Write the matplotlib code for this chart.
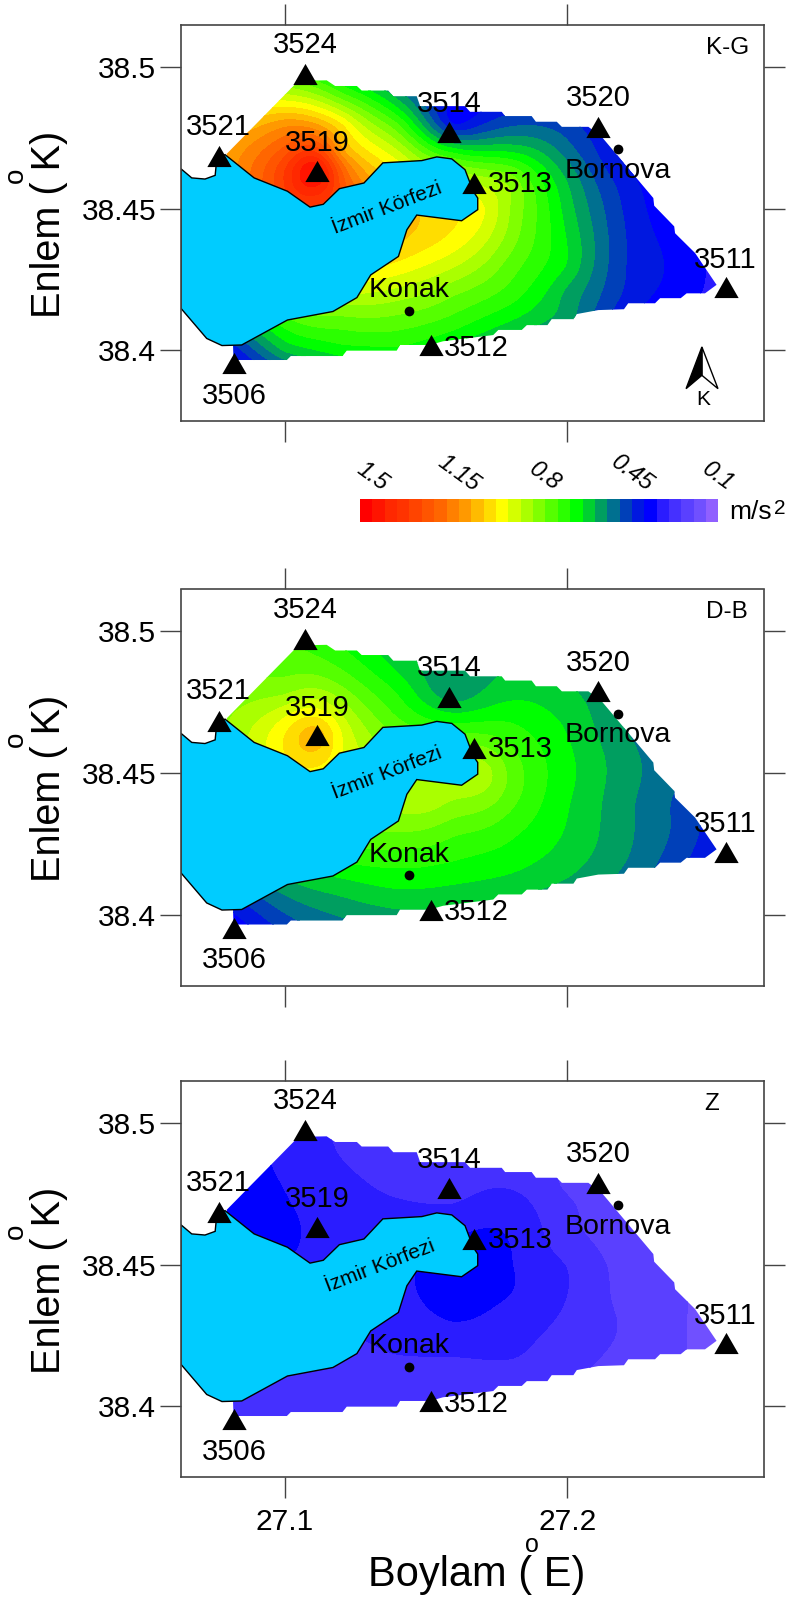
import numpy as np
import matplotlib
matplotlib.use("Agg")
import matplotlib.pyplot as plt
from matplotlib.colors import ListedColormap
from matplotlib.patches import Polygon

plt.rcParams['font.family'] = ['Liberation Sans', 'DejaVu Sans']

N = np.nan

# stations
station_ids = ['3524', '3521', '3519', '3514', '3520', '3513', '3511', '3512', '3506']
station_lon = [27.1072, 27.0768, 27.1113, 27.1581, 27.2110, 27.1671, 27.2562, 27.1517, 27.0820]
station_lat = [38.4974, 38.4684, 38.4633, 38.4769, 38.4788, 38.4590, 38.4222, 38.4018, 38.3954]
label_lon = [27.1072, 27.0763, 27.1113, 27.1581, 27.2110, 27.1833, 27.2559, 27.1677, 27.0820]
label_lat = [38.5076, 38.4788, 38.4731, 38.4870, 38.4888, 38.4585, 38.4320, 38.4010, 38.3840]

# towns
town_names = ['Bornova', 'Konak']
town_lon = [27.2180, 27.1441]
town_lat = [38.4709, 38.4139]
town_label_lat = [38.4633, 38.4212]

# Izmir bay
bay_lon = [27.0632, 27.0670, 27.0717, 27.0753, 27.0759, 27.0788, 27.0891, 27.1009, 27.1089, 27.1136,
           27.1193, 27.1280, 27.1347, 27.1485, 27.1538, 27.1591, 27.1638, 27.1667, 27.1683, 27.1683,
           27.1626, 27.1467, 27.1432, 27.1402, 27.1304, 27.1255, 27.1170, 27.1009, 27.0847, 27.0777,
           27.0723, 27.0632]
bay_lat = [38.4640, 38.4608, 38.4604, 38.4617, 38.4678, 38.4690, 38.4608, 38.4561, 38.4505, 38.4515,
           38.4570, 38.4590, 38.4661, 38.4669, 38.4682, 38.4675, 38.4637, 38.4561, 38.4537, 38.4496,
           38.4457, 38.4477, 38.4425, 38.4331, 38.4266, 38.4186, 38.4137, 38.4107, 38.4019, 38.4017,
           38.4042, 38.4148]

# outline of the gridded area, stepped like the original grid
area_lon = [27.0818, 27.1007, 27.1021, 27.1204, 27.1219, 27.1396, 27.1408, 27.1514, 27.1560, 27.1738,
            27.1756, 27.1839, 27.1857, 27.1930, 27.1945, 27.2022, 27.2034, 27.2110, 27.2201, 27.2216,
            27.2311, 27.2329, 27.2402, 27.2423, 27.2488, 27.2529, 27.2453, 27.2382, 27.2379, 27.2308,
            27.2305, 27.2122, 27.2075, 27.1981, 27.1963, 27.1889, 27.1874, 27.1780, 27.1768, 27.1656,
            27.1638, 27.1479, 27.1467, 27.1384, 27.1366, 27.1272, 27.1255, 27.1178, 27.1148, 27.1048,
            27.0794]
area_lat = [38.3966, 38.3966, 38.3980, 38.3980, 38.3999, 38.3999, 38.4019, 38.4019, 38.4032, 38.4054,
            38.4072, 38.4072, 38.4089, 38.4089, 38.4110, 38.4110, 38.4128, 38.4142, 38.4145, 38.4166,
            38.4166, 38.4184, 38.4184, 38.4201, 38.4201, 38.4231, 38.4343, 38.4413, 38.4437, 38.4510,
            38.4537, 38.4753, 38.4788, 38.4788, 38.4806, 38.4806, 38.4826, 38.4826, 38.4841, 38.4841,
            38.4861, 38.4861, 38.4896, 38.4896, 38.4916, 38.4916, 38.4932, 38.4932, 38.4952, 38.4950,
            38.4693]

# values (m/s2)
node_lon = [27.08, 27.10, 27.12, 27.14, 27.16, 27.18, 27.20, 27.22, 27.24, 27.26]
node_lat = [38.49, 38.48, 38.47, 38.46, 38.45, 38.44, 38.43, 38.42, 38.41, 38.40, 38.39]

kg_rows = [
    [N, .88, .74, .55, .38, .38, .36, N, N, N],
    [N, 1.10, .97, .72, .37, .46, .44, .36, N, N],
    [1.08, 1.25, 1.10, .88, .66, .62, .50, .36, .32, N],
    [N, 1.33, 1.25, N, N, .80, .57, .40, .33, N],
    [N, N, N, N, N, .82, .60, .42, .33, N],
    [N, N, N, N, .96, .80, .62, .43, .35, .30],
    [N, N, N, .96, .88, .75, .62, .43, .36, .28],
    [N, N, N, .85, .78, .70, .56, .42, .35, .28],
    [N, .70, .75, .75, .70, .62, .54, .38, N, N],
    [.38, .58, .65, .66, .60, .52, .44, N, N, N],
    [.30, .40, .50, N, N, N, N, N, N, N],
]
db_rows = [
    [N, .75, .70, .60, .56, .57, .56, .50, N, N],
    [N, .80, .78, .66, .53, .60, .58, .53, N, N],
    [.82, .92, .88, .72, .64, .66, .61, .52, .46, N],
    [N, .98, .93, N, N, .72, .63, .54, .47, N],
    [N, N, N, N, N, .76, .64, .55, .48, N],
    [N, N, N, N, .82, .74, .63, .54, .46, .38],
    [N, N, N, .78, .74, .69, .62, .54, .46, .36],
    [N, N, N, .70, .68, .65, .60, .53, .44, .34],
    [N, .55, .60, .63, .62, .60, .56, .50, N, N],
    [.36, .47, .53, .56, .56, .54, .50, N, N, N],
    [.30, .40, .46, N, N, N, N, N, N, N],
]
z_rows = [
    [N, .31, .272, .255, .25, .25, .235, .20, N, N],
    [N, .32, .285, .262, .255, .262, .215, .19, N, N],
    [.36, .33, .30, .282, .28, .30, .235, .20, .17, N],
    [N, .335, .305, N, N, .32, .24, .20, .175, N],
    [N, N, N, N, N, .327, .272, .21, .175, N],
    [N, N, N, N, .345, .325, .275, .21, .18, .14],
    [N, N, N, .30, .325, .295, .265, .22, .18, .13],
    [N, N, N, .28, .285, .285, .25, .215, .18, .13],
    [N, .25, .25, .25, .25, .25, .23, .20, N, N],
    [.25, .25, .25, .24, .24, .23, .22, N, N, N],
    [.25, .25, .24, N, N, N, N, N, N, N],
]

# a few more readings where the surface bends quickly
extra_lon = [27.1113, 27.1100, 27.1700, 27.1500, 27.1580]
extra_lat = [38.4633, 38.4550, 38.4500, 38.4400, 38.4820]
kg_extra = [1.47, 1.38, .93, 1.00, .37]
db_extra = [1.05, 1.00, .85, .85, .53]
z_extra = [.315, .315, .36, .33, .255]

# colour bar
bar_values = [1.5, 1.45, 1.4, 1.35, 1.3, 1.25, 1.2, 1.15, 1.1, 1.05, 1.0, .95, .9, .85, .8,
              .75, .7, .65, .6, .55, .5, .45, .4, .35, .3, .25, .2, .15, .1]
bar_colors = ['#FF0000', '#FF1400', '#FF2800', '#FF3300', '#FF4400', '#FF5500', '#FF6600', '#FF8000',
              '#FF9900', '#FFBB00', '#FFDD00', '#FFFF00', '#D4FF00', '#AAFF00', '#80FF00', '#55FF00',
              '#2BFF00', '#00FF00', '#00D030', '#009E60', '#007090', '#0040B8', '#0018E0', '#0000FF',
              '#2A1CFF', '#4530FF', '#5A40FF', '#7050FF', '#9060FF']
bar_labels = ['1.5', '1.15', '0.8', '0.45', '0.1']
bar_label_cells = [0, 7, 14, 21, 28]

# north arrow
arrow_black_lon = [27.2477, 27.2421, 27.2477]
arrow_black_lat = [38.4012, 38.3865, 38.3912]
arrow_white_lon = [27.2477, 27.2477, 27.2534]
arrow_white_lat = [38.4012, 38.3912, 38.3865]

W, H = 787, 1603
TRI = [(-1, -.87), (1, -.87), (0, .87)]
BAY = '#00CCFF'


def surface(rows, extra, grid_lon, grid_lat):
    # thin plate spline through the values
    lon2, lat2 = np.meshgrid(node_lon, node_lat)
    v = np.array(rows, dtype=float)
    ok = ~np.isnan(v)
    px = np.r_[lon2[ok], extra_lon]
    py = np.r_[lat2[ok], extra_lat]
    pv = np.r_[v[ok], extra]
    x0, y0 = 27.16, 38.44
    sx, sy = (px - x0) * 20, (py - y0) * 20

    def kernel(dx, dy):
        r2 = dx ** 2 + dy ** 2
        return 0.5 * r2 * np.log(r2 + 1e-12)

    n = len(pv)
    K = kernel(sx[:, None] - sx[None, :], sy[:, None] - sy[None, :]) + 1e-4 * np.eye(n)
    P = np.c_[np.ones(n), sx, sy]
    A = np.block([[K, P], [P.T, np.zeros((3, 3))]])
    coef = np.linalg.solve(A, np.r_[pv, np.zeros(3)])
    gx, gy = (grid_lon.ravel() - x0) * 20, (grid_lat.ravel() - y0) * 20
    out = kernel(gx[:, None] - sx[None, :], gy[:, None] - sy[None, :]) @ coef[:n]
    out += coef[n] + coef[n + 1] * gx + coef[n + 2] * gy
    return out.reshape(grid_lon.shape)


def draw_panel(top, rows, extra, tag, tag_lon, bay_text, show_x=False):
    ax = fig.add_axes([181 / W, 1 - (top + 396) / H, 583 / W, 396 / H])
    lons, lats = np.meshgrid(np.linspace(27.07, 27.265, 230), np.linspace(38.385, 38.50, 170))
    field = surface(rows, extra, lons, lats)

    levels = [0.075 + 0.05 * i for i in range(30)]
    cs = ax.contourf(lons, lats, field, levels=levels, colors=bar_colors[::-1], extend='both', zorder=1)
    area = Polygon(np.c_[area_lon, area_lat], closed=True, fc='none', ec='none')
    ax.add_patch(area)
    cs.set_clip_path(area)

    ax.fill(bay_lon, bay_lat, fc=BAY, ec='black', lw=1, zorder=2)
    ax.text(bay_text[0], bay_text[1], 'İzmir Körfezi', fontsize=15, rotation=21, ha='center', va='center', zorder=3)

    ax.plot(station_lon, station_lat, ls='none', marker=TRI, ms=17.5, color='black', mew=0, zorder=4)
    ax.plot(town_lon, town_lat, ls='none', marker='o', ms=7, color='black', mew=0, zorder=4)
    for name, x, y in zip(station_ids, label_lon, label_lat):
        ax.text(x, y, name, fontsize=21, ha='center', va='center', zorder=5)
    for name, x, y in zip(town_names, town_lon, town_label_lat):
        ax.text(x, y, name, fontsize=20.5, ha='center', va='center', zorder=5)
    ax.text(tag_lon, 38.5066, tag, fontsize=17.5, ha='center', va='center', zorder=5)

    ax.set_xlim(27.0632, 27.2697)
    ax.set_ylim(38.3751, 38.5147)
    ax.set_xticks([27.1, 27.2])
    ax.set_yticks([38.4, 38.45, 38.5])
    ax.set_yticklabels(['38.4', '38.45', '38.5'], fontsize=21.5)
    ax.set_xticklabels(['27.1', '27.2'], fontsize=21.5)
    ax.tick_params(axis='both', which='major', length=15, width=1, color='#444444', direction='out',
                   top=True, right=True, bottom=True, left=True, labelbottom=show_x)
    ax.tick_params(axis='x', pad=7)
    ax.tick_params(axis='y', pad=3)
    for s in ax.spines.values():
        s.set_color('#444444')
        s.set_linewidth(1.2)

    # y title with its small degree sign
    fig.text(49 / W, 1 - (top + 199) / H, 'Enlem ( K)', fontsize=28.5, rotation=90, ha='center', va='center')
    fig.text(16 / W, 1 - (top + 150) / H, 'o', fontsize=20, rotation=90, ha='center', va='center')
    return ax


fig = plt.figure(figsize=(W / 100, H / 100), dpi=100)

ax1 = draw_panel(25, kg_rows, kg_extra, 'K-G', 27.2567, (27.1363, 38.4500))
ax2 = draw_panel(589.5, db_rows, db_extra, 'D-B', 27.2567, (27.1363, 38.4500))
ax3 = draw_panel(1081, z_rows, z_extra, 'Z', 27.2510, (27.1337, 38.4494), show_x=True)

# north arrow on the first panel
ax1.fill(arrow_white_lon, arrow_white_lat, fc='white', ec='black', lw=1, zorder=4)
ax1.fill(arrow_black_lon, arrow_black_lat, fc='black', ec='black', lw=1, zorder=4)
ax1.text(27.2482, 38.3828, 'K', fontsize=15, ha='center', va='center', zorder=5)

# x title
fig.text(477 / W, 1 - 1575 / H, 'Boylam ( E)', fontsize=30, ha='center', va='center')
fig.text(532 / W, 1 - 1545 / H, 'o', fontsize=18, ha='center', va='center')

# colour bar
cax = fig.add_axes([360 / W, 1 - 522 / H, 358.5 / W, 23 / H])
cax.pcolormesh(np.arange(len(bar_values) + 1), [0, 1], [bar_values], cmap=ListedColormap(bar_colors[::-1]),
               vmin=0.075, vmax=1.525)
cax.set_axis_off()
for cell, lab in zip(bar_label_cells, bar_labels):
    y = 2.13 if len(lab) > 3 else 2.0
    cax.text(cell + 1, y, lab, fontsize=17, style='italic', rotation=-36, ha='center', va='center', clip_on=False)
fig.text(751 / W, 1 - 512 / H, 'm/s', fontsize=19, ha='center', va='center')
fig.text(780 / W, 1 - 508 / H, '2', fontsize=15, ha='center', va='center')

fig.savefig('out.png', dpi=100)
